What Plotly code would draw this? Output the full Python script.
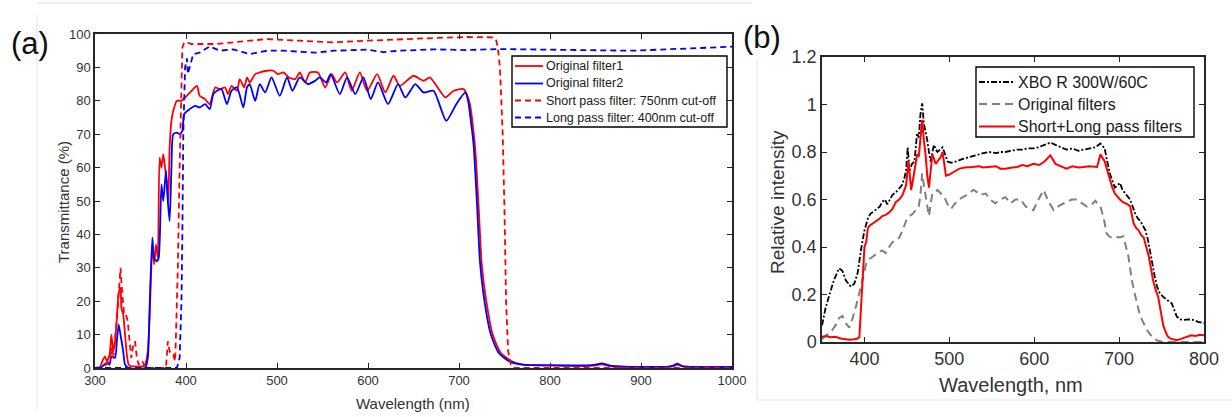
import plotly.graph_objects as go

# ---------------- Panel (a) data ----------------
f1_wl = [300, 305, 308, 311, 313, 316, 318, 320, 322, 324, 326, 328, 329, 331, 333, 335, 337, 340, 345, 350, 355, 358,
         360, 363, 365, 367, 369, 371, 373, 375, 377, 379, 380.5, 382, 384, 386, 390, 395, 399, 406, 412, 415, 421, 426,
         432, 437, 443, 446, 450, 456, 459, 464, 467, 470, 476, 481, 489, 496, 501, 507, 513, 520, 525, 531, 536, 545,
         553, 560, 566, 575, 582, 591, 599, 610, 619, 628, 635, 650, 661, 668, 685, 694, 705, 712, 715, 718, 720, 722,
         725, 730, 737, 746, 758, 770, 800, 840, 850, 857, 865, 900, 935, 940, 945, 960, 1000]
f1_T = [0, 0, 2, 3.5, 2, 4, 10, 5, 8, 15, 22.5, 24, 18, 16, 10, 4, 1, 0.5, 0.5, 0.3, 1, 5,
        15, 36, 31, 37, 33, 63, 60, 64, 60, 55, 50, 66, 74, 77, 80, 80, 81, 83, 84.5, 81.5, 80.5, 79,
        84, 83.5, 84, 82, 84.5, 83, 86.5, 84, 87, 85.5, 88, 88.5, 89, 89, 88, 88.5, 87, 86.5, 88.5, 85.5, 88.5, 88.5,
        84, 88, 85.5, 88.5, 83, 88.5, 83, 88, 82.5, 87.5, 84.5, 87.5, 86, 87, 81, 83, 83.5, 79, 73, 65, 56, 46,
        31, 20, 10, 4.5, 2, 1, 0.8, 0.6, 0.8, 1.1, 0.6, 0.3, 0.5, 1.0, 0.5, 0.3, 0.3]

f2_wl = [300, 306, 310, 313, 316, 318, 322, 324, 326, 328, 331, 333, 337, 355, 358, 360, 363, 365, 368, 370, 373, 375,
         378, 380, 382, 384, 386, 390, 393, 396, 398, 404, 410, 415, 421, 426, 430, 434, 439, 445, 450, 456, 463, 467,
         470, 476, 481, 487, 494, 503, 511, 517, 525, 534, 542, 547, 554, 559, 569, 577, 586, 595, 603, 611, 622, 633,
         641, 652, 661, 672, 686, 697, 707, 710, 713, 716, 718, 720, 723, 728, 735, 744, 756, 770, 800, 840, 850, 857,
         865, 880, 930, 936, 940, 945, 960, 1000]
f2_T = [0, 0, 1, 1.5, 1, 3.5, 3, 8, 13, 10, 5, 1, 0, 0, 3, 18, 39, 33, 32, 33, 55, 50,
        59, 50, 44, 60, 70, 70.5, 70, 71, 76, 77.5, 78.5, 78, 79, 77.5, 82, 83, 83.5, 79, 83, 84, 78, 84,
        85, 80, 85, 82.5, 87, 81.5, 87, 83, 87, 85, 86, 87, 85.5, 88, 82, 87, 82, 87, 80.5, 85.5, 79, 85,
        81, 85, 82.5, 83, 74, 79, 82.5, 80, 74, 67, 58, 48, 32, 20, 10, 4.4, 1.9, 1, 0.8, 0.8, 1.0, 1.4,
        0.8, 0.4, 0.4, 0.8, 1.3, 0.6, 0.3, 0.3]

sp_wl = [300, 310, 316, 318, 320, 322, 324, 326, 328, 330, 332, 334, 336, 338, 340, 342, 344, 346, 348, 350, 352, 354,
         356, 378, 380, 382, 384, 386, 388, 389, 391, 393, 395, 396, 398, 401, 406, 415, 434, 452, 489, 525, 562, 599,
         635, 672, 708, 738, 741, 743, 745, 748, 750, 751.7, 754, 757, 760, 1000]
sp_T = [0, 0.5, 2, 6, 3, 8, 14, 22, 30, 22, 16, 16, 14, 8, 3, 7, 8, 3, 1, 1, 2, 1,
        0, 0, 8, 5, 4, 4, 2, 10, 30, 60, 88, 96, 97.5, 97.5, 97, 97, 97, 97.5, 98.5, 98, 97.5, 98,
        98.5, 98.8, 99.1, 99, 98, 95, 90, 70, 47, 20, 5, 1, 0, 0]

lp_wl = [300, 390, 393, 395, 396, 397, 399, 401, 402, 404, 408, 415, 426, 437, 452, 470, 489, 507, 525, 543, 562, 599,
         617, 635, 672, 708, 745, 818, 891, 964, 1000]
lp_T = [0, 0, 3, 20, 40, 70, 90, 92.7, 88, 89.8, 94, 94.4, 96.3, 95, 95.4, 94, 95, 95, 94.6, 94.4, 95, 95.3,
        94.6, 95, 95.4, 95.2, 95.5, 95.2, 95, 95.8, 96.2]

a_names = ["Original filter1", "Original filter2", "Short pass filter: 750nm cut-off", "Long pass filter: 400nm cut-off"]
a_xticks = [300, 400, 500, 600, 700, 800, 900, 1000]
a_yticks = [0, 10, 20, 30, 40, 50, 60, 70, 80, 90, 100]

# ---------------- Panel (b) data ----------------
xbo_wl = [350, 354, 358, 364, 370, 374, 378, 384, 388, 392, 396, 400, 404, 407, 411, 415, 418, 421, 424, 427, 430, 433,
          437, 441, 444, 447, 449, 451, 453, 456, 459, 462, 464, 466, 468, 470, 472, 474, 476, 478, 480, 482, 484, 486,
          489, 492, 495, 498, 502, 508, 515, 520, 527, 535, 540, 547, 555, 560, 566, 572, 580, 586, 592, 599, 605, 612,
          619, 625, 632, 638, 645, 652, 658, 665, 672, 678, 683, 686, 689, 692, 695, 698, 701, 704, 707, 710, 713, 716,
          719, 722, 725, 728, 731, 734, 736, 739, 742, 745, 748, 752, 756, 759, 762, 765, 768, 772, 776, 782, 787, 793,
          799, 800]
xbo_I = [0.07, 0.14, 0.19, 0.26, 0.31, 0.30, 0.26, 0.233, 0.245, 0.29, 0.39, 0.47, 0.52, 0.54, 0.55, 0.56, 0.57, 0.59,
         0.60, 0.58, 0.60, 0.62, 0.63, 0.65, 0.66, 0.69, 0.72, 0.82, 0.72, 0.75, 0.76, 0.88, 0.86, 0.96, 1.005, 0.92,
         0.89, 0.85, 0.80, 0.76, 0.80, 0.83, 0.81, 0.80, 0.81, 0.82, 0.79, 0.76, 0.755, 0.76, 0.77, 0.775, 0.785, 0.79,
         0.795, 0.80, 0.795, 0.80, 0.80, 0.805, 0.81, 0.81, 0.815, 0.815, 0.82, 0.83, 0.84, 0.83, 0.82, 0.81, 0.815,
         0.805, 0.81, 0.815, 0.82, 0.836, 0.815, 0.76, 0.71, 0.68, 0.65, 0.66, 0.67, 0.64, 0.625, 0.61, 0.60, 0.57,
         0.54, 0.52, 0.51, 0.49, 0.47, 0.43, 0.39, 0.33, 0.275, 0.23, 0.205, 0.19, 0.177, 0.17, 0.163, 0.13, 0.107,
         0.095, 0.093, 0.095, 0.093, 0.085, 0.08, 0.08]

orig_wl = [350, 356, 362, 366, 370, 374, 378, 382, 386, 390, 393, 396, 399, 402, 406, 410, 414, 417, 421, 425, 429, 433,
           437, 441, 445, 449, 453, 457, 461, 464, 466, 468, 470, 472, 474, 476, 478, 480, 483, 486, 490, 494, 498, 502,
           506, 511, 516, 523, 528, 531, 536, 543, 548, 554, 560, 566, 572, 578, 584, 590, 595, 599, 605, 611, 617, 623,
           630, 638, 644, 650, 656, 662, 668, 672, 675, 678, 682, 685, 688, 691, 695, 700, 705, 708, 711, 713, 715, 718,
           721, 724, 727, 730, 733, 737, 740, 746, 752, 800]
orig_I = [0.013, 0.03, 0.05, 0.07, 0.10, 0.11, 0.08, 0.06, 0.10, 0.15, 0.19, 0.23, 0.28, 0.33, 0.35, 0.36, 0.37, 0.38,
          0.385, 0.375, 0.40, 0.42, 0.43, 0.44, 0.47, 0.51, 0.53, 0.54, 0.56, 0.57, 0.62, 0.71, 0.66, 0.61, 0.57, 0.53,
          0.58, 0.625, 0.63, 0.64, 0.625, 0.61, 0.58, 0.56, 0.58, 0.60, 0.61, 0.625, 0.64, 0.635, 0.62, 0.625, 0.60,
          0.584, 0.60, 0.61, 0.584, 0.60, 0.60, 0.57, 0.56, 0.555, 0.60, 0.64, 0.59, 0.555, 0.575, 0.59, 0.60, 0.60,
          0.585, 0.57, 0.58, 0.595, 0.58, 0.57, 0.52, 0.46, 0.445, 0.44, 0.445, 0.44, 0.445, 0.40, 0.36, 0.31, 0.26,
          0.21, 0.163, 0.12, 0.093, 0.07, 0.05, 0.03, 0.015, 0.005, 0, 0]

sl_wl = [350, 355, 360, 366, 372, 378, 382, 388, 392, 394, 396, 397, 398, 400, 402, 404, 406, 410, 415, 418, 421, 425,
         429, 433, 437, 441, 445, 449, 452, 455, 458, 462, 464, 466, 468, 470, 472, 474, 476, 478, 480, 482, 484, 486,
         488, 490, 492, 494, 496, 500, 504, 507, 512, 518, 527, 535, 540, 547, 555, 560, 566, 574, 580, 586, 592, 599,
         606, 612, 619, 625, 632, 638, 645, 652, 658, 665, 674, 678, 683, 686, 689, 692, 695, 698, 701, 704, 707, 710,
         713, 717, 720, 723, 726, 729, 732, 735, 738, 740, 743, 746, 748, 750, 752, 754, 757, 760, 764, 768, 772, 776,
         780, 785, 790, 795, 800]
sl_I = [0.022, 0.025, 0.02, 0.022, 0.015, 0.012, 0.01, 0.012, 0.015, 0.02, 0.15, 0.25, 0.32, 0.40, 0.42, 0.48, 0.49,
        0.50, 0.51, 0.52, 0.53, 0.535, 0.545, 0.56, 0.59, 0.60, 0.62, 0.66, 0.76, 0.64, 0.70, 0.79, 0.78, 0.87, 0.935,
        0.85, 0.79, 0.70, 0.65, 0.72, 0.79, 0.77, 0.75, 0.76, 0.77, 0.78, 0.80, 0.75, 0.70, 0.705, 0.715, 0.72, 0.73,
        0.735, 0.737, 0.74, 0.735, 0.737, 0.74, 0.73, 0.73, 0.735, 0.737, 0.745, 0.74, 0.75, 0.745, 0.76, 0.786, 0.75,
        0.74, 0.73, 0.74, 0.735, 0.737, 0.74, 0.737, 0.79, 0.76, 0.72, 0.68, 0.65, 0.625, 0.61, 0.60, 0.59, 0.585,
        0.58, 0.57, 0.50, 0.48, 0.47, 0.45, 0.44, 0.40, 0.36, 0.30, 0.26, 0.22, 0.19, 0.15, 0.107, 0.07, 0.05, 0.025,
        0.015, 0.01, 0.008, 0.012, 0.018, 0.022, 0.028, 0.025, 0.03, 0.028]

b_names = ["XBO R 300W/60C", "Original filters", "Short+Long pass filters"]
b_xticks = [400, 500, 600, 700, 800]
b_yticks = [0, 0.2, 0.4, 0.6, 0.8, 1.0, 1.2]
b_yticklabels = ["0", "0.2", "0.4", "0.6", "0.8", "1", "1.2"]

# ---------------- Styles ----------------
W, H = 1232, 417
FONT = "Liberation Sans, Arial, sans-serif"
AX = "#262626"
TXT = "#333333"

a_styles = [dict(color="#ff0000", width=1.8),
            dict(color="#0000ff", width=1.8),
            dict(color="#ff0000", width=1.8, dash="6px,4px"),
            dict(color="#0000ff", width=1.8, dash="6px,4px")]
b_styles = [dict(color="#000000", width=1.8, dash="6px,2px,2px,2px"),
            dict(color="#808080", width=2, dash="8px,5px"),
            dict(color="#ff0000", width=2)]

fig = go.Figure()

a_series = [(f1_wl, f1_T), (f2_wl, f2_T), (sp_wl, sp_T), (lp_wl, lp_T)]
for i, ((xs, ys), name, st) in enumerate(zip(a_series, a_names, a_styles)):
    line = dict(st)
    if i < 2:
        line.update(shape="spline", smoothing=0.6)
    fig.add_trace(go.Scatter(x=xs, y=ys, mode="lines", name=name, line=line,
                             xaxis="x", yaxis="y", showlegend=False))

b_series = [(xbo_wl, xbo_I), (orig_wl, orig_I), (sl_wl, sl_I)]
for (xs, ys), name, st in zip(b_series, b_names, b_styles):
    fig.add_trace(go.Scatter(x=xs, y=ys, mode="lines", name=name, line=dict(st),
                             xaxis="x2", yaxis="y2", showlegend=False))


def px_x(p):
    return p / W


def px_y(p):
    return 1 - p / H


common = dict(showline=True, linecolor=AX, linewidth=1.5, mirror="ticks", ticks="inside",
              tickcolor=AX, tickwidth=1.3, showgrid=False, zeroline=False, automargin=False)

fig.update_layout(
    width=W, height=H,
    margin=dict(l=0, r=0, t=0, b=0),
    paper_bgcolor="white", plot_bgcolor="white",
    font=dict(family=FONT, color=AX),
    showlegend=False,
    xaxis=dict(domain=[px_x(95), px_x(732)], range=[300, 1000], tickvals=a_xticks, ticklen=5,
               tickfont=dict(size=13, color=TXT), anchor="y", **common),
    yaxis=dict(domain=[px_y(368), px_y(34)], range=[0, 100], tickvals=a_yticks, ticklen=5,
               tickfont=dict(size=13, color=TXT), anchor="x", **common),
    xaxis2=dict(domain=[px_x(822), px_x(1204)], range=[350, 800], tickvals=b_xticks, ticklen=5,
                tickfont=dict(size=18, color=TXT), anchor="y2", **common),
    yaxis2=dict(domain=[px_y(342), px_y(57)], range=[0, 1.2], tickvals=b_yticks, ticktext=b_yticklabels,
                ticklen=5, tickfont=dict(size=18, color=TXT), anchor="x2", **common),
)

ann = [
    dict(text="(a)", x=px_x(30), y=px_y(43), font=dict(size=31, color="#111111")),
    dict(text="(b)", x=px_x(762), y=px_y(38), font=dict(size=31, color="#111111")),
    dict(text="Transmittance (%)", x=px_x(63), y=px_y(202), textangle=-90, font=dict(size=15, color=TXT)),
    dict(text="Wavelength (nm)", x=px_x(413), y=px_y(403), font=dict(size=15, color=TXT)),
    dict(text="Relative intensity", x=px_x(777), y=px_y(202), textangle=-90, font=dict(size=19, color=TXT)),
    dict(text="Wavelength, nm", x=px_x(1011), y=px_y(385), font=dict(size=20, color=TXT)),
]
for a in ann:
    a.update(xref="paper", yref="paper", showarrow=False, xanchor="center", yanchor="middle")
    fig.add_annotation(**a)


# legends drawn as boxes with sample lines and text
def draw_legend(box, rows, line_x, text_x, names, styles, size):
    x0, y0, x1, y1 = box
    fig.add_shape(type="rect", xref="paper", yref="paper", x0=px_x(x0), y0=px_y(y1), x1=px_x(x1), y1=px_y(y0),
                  line=dict(color="#000000", width=1.4), fillcolor="white", layer="above")
    for ry, name, st in zip(rows, names, styles):
        fig.add_shape(type="line", xref="paper", yref="paper", x0=px_x(line_x[0]), x1=px_x(line_x[1]),
                      y0=px_y(ry), y1=px_y(ry), line=dict(st), layer="above")
        fig.add_annotation(text=name, xref="paper", yref="paper", x=px_x(text_x), y=px_y(ry),
                           xanchor="left", yanchor="middle", showarrow=False,
                           font=dict(size=size, color="#1a1a1a", family=FONT))


draw_legend((512, 56, 727, 127), [66, 83.5, 100.5, 117.5], (515, 543), 544, a_names, a_styles, 12.5)
draw_legend((976, 67, 1194, 137), [82, 104, 126.5], (979, 1015), 1016, b_names, b_styles, 16)

# faint frame lines of the original composite
frame = "#e3e3e3"
for (x0, y0, x1, y1) in [(37, 15, 37, 410), (37, 3, 752, 3), (757, 60, 757, 400), (757, 400, 1232, 400)]:
    fig.add_shape(type="line", xref="paper", yref="paper", x0=px_x(x0), y0=px_y(y0), x1=px_x(x1), y1=px_y(y1),
                  line=dict(color=frame, width=1), layer="below")

fig.write_html("out.html", config={"displayModeBar": False},
               post_script="document.body.style.margin='0px';document.body.style.overflow='hidden';")
